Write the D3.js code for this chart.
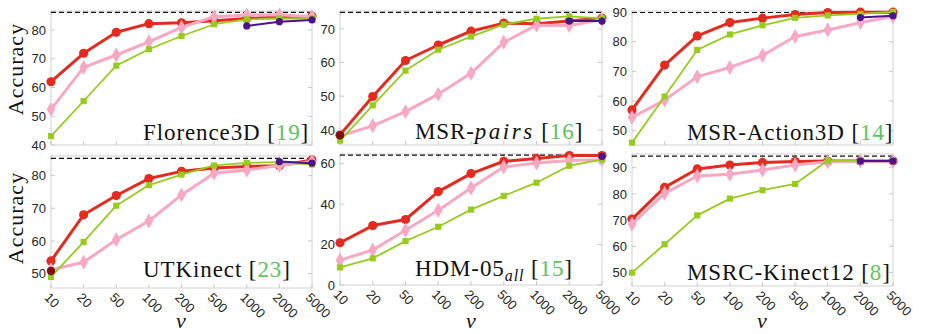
<!DOCTYPE html>
<html>
<head>
<meta charset="utf-8">
<script src="https://cdnjs.cloudflare.com/ajax/libs/d3/7.8.5/d3.min.js"></script>
<style>
  body { margin: 0; background: #fff; }
  .frame { fill: none; stroke: #d2d2d2; stroke-width: 1; }
  .tick { stroke: #c8c8c8; stroke-width: 1; }
  .ticklabel { font-family: "Liberation Sans", Arial, sans-serif; font-size: 13px; fill: #262626; }
  .best { stroke: #111; stroke-width: 1.2; stroke-dasharray: 5,3; fill: none; }
  .title { font-family: "Liberation Serif", "Times New Roman", "DejaVu Serif", serif; font-size: 23px; letter-spacing: 0.9px; fill: #111; }
  .ylab { font-family: "Liberation Serif", "Times New Roman", "DejaVu Serif", serif; font-size: 22px; letter-spacing: 1px; fill: #111; }
  .xlab { font-family: "Liberation Serif", "Times New Roman", "DejaVu Serif", serif; font-style: italic; font-size: 22px; fill: #111; }
</style>
</head>
<body>
<script>
// sampling sizes nu (categorical axis)
const nuLabels = ["10", "20", "50", "100", "200", "500", "1000", "2000", "5000"]

// Florence3D
const florenceRed    = [62.0, 71.9, 79.2, 82.2, 82.5, 83.2, 84.0, 84.5, 84.8]
const florencePink   = [52.4, 67.0, 71.3, 75.9, 80.9, 84.6, 85.2, 85.3, 84.6]
const florenceGreen  = [43.1, 55.3, 67.6, 73.3, 77.9, 82.0, 83.7, 84.0, 84.0]
const florencePurple = [null, null, null, null, null, null, 81.4, 82.9, 83.5]
const florenceMaroon = [null, null, null, null, null, null, null, null, null]
const florenceTicks  = [40, 50, 60, 70, 80]
const florenceBest   = 86.1

// MSR-pairs
const pairsRed    = [38.5, 49.9, 60.6, 65.2, 69.3, 71.7, 71.5, 72.3, 73.2]
const pairsPink   = [38.2, 41.2, 45.4, 50.6, 56.8, 66.0, 71.1, 71.0, 72.7]
const pairsGreen  = [36.8, 47.3, 57.6, 63.8, 67.7, 71.3, 73.0, 73.7, 73.1]
const pairsPurple = [null, null, null, null, null, null, null, 72.3, 72.3]
const pairsMaroon = [38.4, null, null, null, null, null, null, null, null]
const pairsTicks  = [40, 50, 60, 70]
const pairsBest   = 74.9

// MSR-Action3D
const actionRed    = [57.0, 72.1, 81.9, 86.4, 87.9, 89.1, 89.8, 89.9, 89.9]
const actionPink   = [54.5, 60.3, 68.2, 71.3, 75.3, 81.7, 83.9, 86.4, 88.4]
const actionGreen  = [46.0, 61.5, 77.2, 82.4, 85.5, 88.0, 88.8, 89.3, 90.0]
const actionPurple = [null, null, null, null, null, null, null, 88.1, 88.7]
const actionMaroon = [null, null, null, null, null, null, null, null, null]
const actionTicks  = [50, 60, 70, 80, 90]
const actionBest   = 89.8

// UTKinect
const utkRed    = [53.9, 68.0, 73.9, 79.1, 81.3, 82.3, 82.8, 83.0, 84.8]
const utkPink   = [51.2, 53.5, 60.4, 66.1, 74.1, 80.7, 81.7, 83.1, 84.3]
const utkGreen  = [49.0, 59.7, 70.8, 77.1, 80.3, 83.1, 83.9, 84.1, 83.4]
const utkPurple = [null, null, null, null, null, null, null, 84.3, 83.8]
const utkMaroon = [50.8, null, null, null, null, null, null, null, null]
const utkTicks  = [50, 60, 70, 80]
const utkBest   = 85.3

// HDM-05 all
const hdmRed    = [20.9, 29.4, 32.4, 46.2, 55.1, 61.2, 62.6, 64.0, 64.0]
const hdmPink   = [12.3, 17.3, 27.1, 37.0, 48.0, 58.4, 60.3, 61.6, 62.0]
const hdmGreen  = [8.7, 13.2, 21.7, 28.8, 37.3, 44.1, 50.6, 59.0, 62.0]
const hdmPurple = [null, null, null, null, null, null, null, null, 63.6]
const hdmMaroon = [null, null, null, null, null, null, null, null, null]
const hdmTicks  = [0, 20, 40, 60]
const hdmBest   = 64.2

// MSRC-Kinect12
const msrcRed    = [70.4, 82.5, 89.5, 91.0, 92.0, 92.3, 92.5, 92.5, 92.5]
const msrcPink   = [68.5, 80.2, 86.8, 87.5, 89.1, 91.0, 92.2, 92.4, 92.4]
const msrcGreen  = [50.0, 60.8, 71.8, 78.2, 81.4, 83.8, 92.7, 92.7, 92.5]
const msrcPurple = [null, null, null, null, null, null, null, 92.5, 92.5]
const msrcMaroon = [null, null, null, null, null, null, null, null, null]
const msrcTicks  = [50, 60, 70, 80, 90]
const msrcBest   = 94.4

const w = 925
const h = 334

let svg = d3.select("body").append("svg")
  .attr("width", w)
  .attr("height", h)

// panel layout: pixel box, y range, title pieces
let panels = [
  {box: [51, 312, 11, 145], dom: [40, 86.6], ticks: florenceTicks, best: florenceBest,
   series: [florenceRed, florencePink, florenceGreen, florencePurple, florenceMaroon],
   title: [["Florence3D"]], ref: "19", tx: 143, ty: 140, xlabels: false},
  {box: [340, 602, 11, 145], dom: [35.5, 75.3], ticks: pairsTicks, best: pairsBest,
   series: [pairsRed, pairsPink, pairsGreen, pairsPurple, pairsMaroon],
   title: [["MSR-"], ["pairs", "italic"]], ref: "16", tx: 415, ty: 139, xlabels: false},
  {box: [632, 893, 11, 145], dom: [45.2, 90.3], ticks: actionTicks, best: actionBest,
   series: [actionRed, actionPink, actionGreen, actionPurple, actionMaroon],
   title: [["MSR-Action3D"]], ref: "14", tx: 687, ty: 140, xlabels: false},
  {box: [51, 312, 156, 288], dom: [45.6, 86], ticks: utkTicks, best: utkBest,
   series: [utkRed, utkPink, utkGreen, utkPurple, utkMaroon],
   title: [["UTKinect"]], ref: "23", tx: 143, ty: 277, xlabels: true},
  {box: [340, 602, 154, 285], dom: [0, 64.8], ticks: hdmTicks, best: hdmBest,
   series: [hdmRed, hdmPink, hdmGreen, hdmPurple, hdmMaroon],
   title: [["HDM-05"], ["all", "sub"]], ref: "15", tx: 415, ty: 276, xlabels: true},
  {box: [632, 893, 154, 286], dom: [44.9, 95.2], ticks: msrcTicks, best: msrcBest,
   series: [msrcRed, msrcPink, msrcGreen, msrcPurple, msrcMaroon],
   title: [["MSRC-Kinect12"]], ref: "8", tx: 687, ty: 280, xlabels: true}
]

// red, pink, green, purple, maroon
let styles = [
  {color: "#e42b1f", width: 3, marker: "circle", size: 4.6},
  {color: "#f8a8c3", width: 3, marker: "diamond", size: 64},
  {color: "#97cc1f", width: 1.8, marker: "square", size: 38},
  {color: "#4a138f", width: 2, marker: "circle", size: 3.6},
  {color: "#7d1212", width: 2, marker: "circle", size: 4.2}
]

for (let p of panels) {
  let [x0, x1, y0, y1] = p.box
  let x = d3.scalePoint().domain(nuLabels).range([x0, x1])
  let y = d3.scaleLinear().domain(p.dom).range([y1, y0])
  let g = svg.append("g")

  // frame
  g.append("rect").attr("class", "frame")
    .attr("x", x0).attr("y", y0).attr("width", x1 - x0).attr("height", y1 - y0)

  // ticks on all four sides, pointing in
  for (let t of p.ticks) {
    g.append("line").attr("class", "tick")
      .attr("x1", x0).attr("x2", x0 + 4).attr("y1", y(t)).attr("y2", y(t))
    g.append("line").attr("class", "tick")
      .attr("x1", x1 - 4).attr("x2", x1).attr("y1", y(t)).attr("y2", y(t))
    g.append("text").attr("class", "ticklabel")
      .attr("x", x0 - 5).attr("y", y(t)).attr("dy", "0.36em")
      .attr("text-anchor", "end").text(t)
  }
  for (let c of nuLabels) {
    g.append("line").attr("class", "tick")
      .attr("x1", x(c)).attr("x2", x(c)).attr("y1", y1).attr("y2", y1 - 4)
    g.append("line").attr("class", "tick")
      .attr("x1", x(c)).attr("x2", x(c)).attr("y1", y0).attr("y2", y0 + 4)
    if (p.xlabels) {
      g.append("text").attr("class", "ticklabel")
        .attr("transform", "translate(" + x(c) + "," + (y1 + 3) + ") rotate(45)")
        .attr("dy", "0.8em")
        .attr("text-anchor", "start")
        .text(c)
    }
  }

  // best reported result
  g.append("line").attr("class", "best")
    .attr("x1", x0).attr("x2", x1).attr("y1", y(p.best)).attr("y2", y(p.best))

  // series
  p.series.forEach((vals, si) => {
    let st = styles[si]
    let line = d3.line()
      .defined(d => d != null)
      .x((d, i) => x(nuLabels[i]))
      .y(d => y(d))
    g.append("path").datum(vals)
      .attr("d", line)
      .attr("fill", "none")
      .attr("stroke", st.color)
      .attr("stroke-width", st.width)
      .attr("stroke-linejoin", "round")
    vals.forEach((v, i) => {
      if (v == null) return
      let cx = x(nuLabels[i]), cy = y(v)
      if (st.marker == "circle") {
        g.append("circle").attr("cx", cx).attr("cy", cy).attr("r", st.size)
          .attr("fill", st.color)
      } else {
        let sym = st.marker == "diamond" ? d3.symbolDiamond : d3.symbolSquare
        g.append("path")
          .attr("d", d3.symbol().type(sym).size(st.size)())
          .attr("transform", "translate(" + cx + "," + cy + ")")
          .attr("fill", st.color)
      }
    })
  })

  // title with citation
  let t = g.append("text").attr("class", "title").attr("x", p.tx).attr("y", p.ty)
  let shifted = false
  for (let part of p.title) {
    let ts = t.append("tspan").text(part[0])
    if (part[1] == "italic") ts.attr("font-style", "italic").attr("letter-spacing", "2.5px")
    if (part[1] == "sub") {
      ts.attr("font-style", "italic").attr("font-size", "16px").attr("dy", 5)
      shifted = true
    }
  }
  t.append("tspan").attr("dy", shifted ? -5 : null).text(" [")
  t.append("tspan").attr("fill", "#5cc45c").text(p.ref)
  t.append("tspan").text("]")
}

// axis labels
svg.append("text").attr("class", "ylab")
  .attr("transform", "translate(23,69) rotate(-90)")
  .attr("text-anchor", "middle").text("Accuracy")
svg.append("text").attr("class", "ylab")
  .attr("transform", "translate(23,218) rotate(-90)")
  .attr("text-anchor", "middle").text("Accuracy")
for (let cx of [181, 471, 762]) {
  svg.append("text").attr("class", "xlab")
    .attr("x", cx).attr("y", 328)
    .attr("text-anchor", "middle").text("\u03bd")
}
</script>
</body>
</html>
